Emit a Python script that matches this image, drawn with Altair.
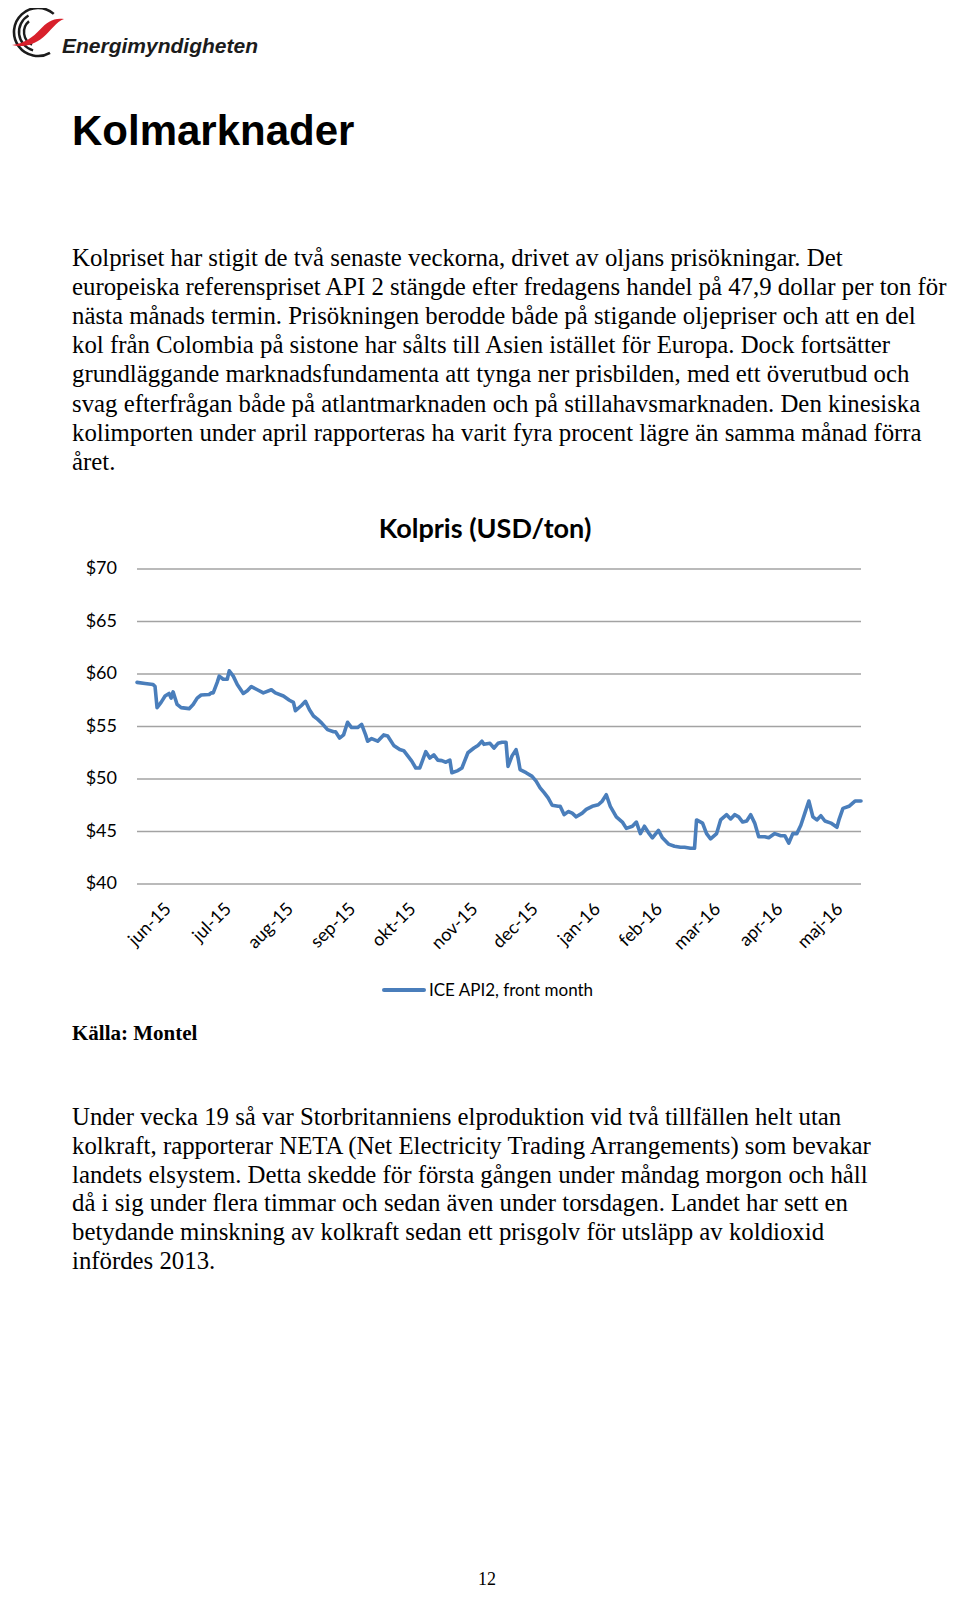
import altair as alt
import pandas as pd

# ---------------- data ----------------
DATES = [
    "2015-05-18", "2015-05-22", "2015-05-26", "2015-05-27", "2015-05-28", "2015-05-30",
    "2015-06-01", "2015-06-03", "2015-06-04", "2015-06-05", "2015-06-07", "2015-06-09",
    "2015-06-13", "2015-06-15", "2015-06-17", "2015-06-19", "2015-06-23", "2015-06-24",
    "2015-06-25", "2015-06-27", "2015-06-28", "2015-06-30", "2015-07-02", "2015-07-03",
    "2015-07-05", "2015-07-07", "2015-07-10", "2015-07-12", "2015-07-14", "2015-07-17",
    "2015-07-20", "2015-07-24", "2015-07-26", "2015-07-30", "2015-08-02", "2015-08-04",
    "2015-08-05", "2015-08-08", "2015-08-10", "2015-08-12", "2015-08-14", "2015-08-16",
    "2015-08-18", "2015-08-21", "2015-08-24", "2015-08-25", "2015-08-27", "2015-08-29",
    "2015-08-31", "2015-09-02", "2015-09-05", "2015-09-07", "2015-09-09", "2015-09-10",
    "2015-09-12", "2015-09-15", "2015-09-18", "2015-09-20", "2015-09-23", "2015-09-26",
    "2015-09-28", "2015-09-30", "2015-10-02", "2015-10-04", "2015-10-06", "2015-10-09",
    "2015-10-11", "2015-10-13", "2015-10-15", "2015-10-17", "2015-10-19", "2015-10-21",
    "2015-10-22", "2015-10-25", "2015-10-27", "2015-10-30", "2015-11-02", "2015-11-04",
    "2015-11-06", "2015-11-07", "2015-11-10", "2015-11-12", "2015-11-14", "2015-11-16",
    "2015-11-18", "2015-11-19", "2015-11-21", "2015-11-23", "2015-11-24", "2015-11-25",
    "2015-11-28", "2015-12-01", "2015-12-03", "2015-12-05", "2015-12-07", "2015-12-09",
    "2015-12-11", "2015-12-14", "2015-12-15", "2015-12-17", "2015-12-19", "2015-12-21",
    "2015-12-23", "2015-12-26", "2015-12-28", "2015-12-31", "2016-01-03", "2016-01-05",
    "2016-01-07", "2016-01-09", "2016-01-12", "2016-01-15", "2016-01-17", "2016-01-20",
    "2016-01-22", "2016-01-24", "2016-01-26", "2016-01-28", "2016-01-30", "2016-02-02",
    "2016-02-04", "2016-02-07", "2016-02-10", "2016-02-13", "2016-02-15", "2016-02-18",
    "2016-02-20", "2016-02-21", "2016-02-24", "2016-02-26", "2016-02-28", "2016-03-02",
    "2016-03-04", "2016-03-07", "2016-03-09", "2016-03-11", "2016-03-13", "2016-03-15",
    "2016-03-17", "2016-03-19", "2016-03-21", "2016-03-23", "2016-03-26", "2016-03-28",
    "2016-03-31", "2016-04-03", "2016-04-05", "2016-04-07", "2016-04-09", "2016-04-11",
    "2016-04-13", "2016-04-15", "2016-04-17", "2016-04-19", "2016-04-21", "2016-04-23",
    "2016-04-25", "2016-04-28", "2016-05-01", "2016-05-02", "2016-05-04", "2016-05-07",
    "2016-05-10", "2016-05-13",
]
PRICES = [
    59.2, 59.1, 59.0, 58.8, 56.8, 57.3,
    57.9, 58.15, 57.7, 58.3, 57.1, 56.8,
    56.7, 57.1, 57.7, 58.0, 58.05, 58.2,
    58.2, 59.2, 59.8, 59.5, 59.5, 60.3,
    59.8, 59.0, 58.15, 58.4, 58.8, 58.5,
    58.2, 58.5, 58.2, 57.9, 57.5, 57.3,
    56.5, 57.0, 57.4, 56.6, 56.0, 55.7,
    55.35, 54.7, 54.5, 54.5, 53.9, 54.2,
    55.4, 54.9, 54.9, 55.2, 54.2, 53.6,
    53.85, 53.6, 54.2, 54.1, 53.2, 52.8,
    52.7, 52.2, 51.7, 51.05, 51.05, 52.6,
    52.0, 52.3, 51.8, 51.75, 51.6, 51.8,
    50.6, 50.8, 51.05, 52.5, 52.95, 53.2,
    53.6, 53.3, 53.4, 52.95, 53.4, 53.5,
    53.5, 51.2, 52.2, 52.8, 52.0, 50.9,
    50.6, 50.25, 49.8, 49.15, 48.7, 48.2,
    47.5, 47.4, 47.4, 46.6, 46.9, 46.75,
    46.4, 46.75, 47.1, 47.4, 47.55, 47.9,
    48.5, 47.4, 46.4, 45.9, 45.3, 45.5,
    45.9, 44.8, 45.5, 44.9, 44.4, 45.1,
    44.4, 43.8, 43.6, 43.5, 43.5, 43.4,
    43.4, 46.1, 45.8, 44.8, 44.3, 44.8,
    46.1, 46.6, 46.2, 46.6, 46.4, 45.9,
    46.0, 46.6, 45.8, 44.5, 44.5, 44.4,
    44.8, 44.6, 44.6, 43.9, 44.8, 44.8,
    45.6, 46.75, 47.9, 46.4, 46.1, 46.5,
    46.0, 45.8, 45.4, 46.1, 47.2, 47.4,
    47.9, 47.9,
]
MONTH_TICKS = ["2015-06-01", "2015-07-01", "2015-08-01", "2015-09-01", "2015-10-01",
               "2015-11-01", "2015-12-01", "2016-01-01", "2016-02-01", "2016-03-01",
               "2016-04-01", "2016-05-01"]
MONTH_LABELS = ["jun-15", "jul-15", "aug-15", "sep-15", "okt-15", "nov-15",
                "dec-15", "jan-16", "feb-16", "mar-16", "apr-16", "maj-16"]
Y_TICKS = [40, 45, 50, 55, 60, 65, 70]
Y_LABELS = ["$40", "$45", "$50", "$55", "$60", "$65", "$70"]

SERIES_NAME = "ICE API2, front month"
CHART_TITLE = "Kolpris (USD/ton)"
PAGE_TITLE = "Kolmarknader"
LOGO_TEXT = "Energimyndigheten"
SOURCE = "Källa: Montel"
PAGE_NO = "12"
PARA1 = [
    "Kolpriset har stigit de två senaste veckorna, drivet av oljans prisökningar. Det",
    "europeiska referenspriset API 2 stängde efter fredagens handel på 47,9 dollar per ton för",
    "nästa månads termin. Prisökningen berodde både på stigande oljepriser och att en del",
    "kol från Colombia på sistone har sålts till Asien istället för Europa. Dock fortsätter",
    "grundläggande marknadsfundamenta att tynga ner prisbilden, med ett överutbud och",
    "svag efterfrågan både på atlantmarknaden och på stillahavsmarknaden. Den kinesiska",
    "kolimporten under april rapporteras ha varit fyra procent lägre än samma månad förra",
    "året.",
]
PARA2 = [
    "Under vecka 19 så var Storbritanniens elproduktion vid två tillfällen helt utan",
    "kolkraft, rapporterar NETA (Net Electricity Trading Arrangements) som bevakar",
    "landets elsystem. Detta skedde för första gången under måndag morgon och håll",
    "då i sig under flera timmar och sedan även under torsdagen. Landet har sett en",
    "betydande minskning av kolkraft sedan ett prisgolv för utsläpp av koldioxid",
    "infördes 2013.",
]

# ---------------- styles / layout ----------------
BLUE = "#4a7ebb"
GRID = "#a3a3a3"
RED = "#d8202b"
SERIF = "Liberation Serif"
SANS = "Liberation Sans"
CAL = "Lato"
W, H = 944, 1582
X_RANGE = [129, 853]
Y_RANGE = [876, 561]

line_df = pd.DataFrame({"date": DATES, "price": PRICES})
grid_df = pd.DataFrame({"v": Y_TICKS, "lab": Y_LABELS})
month_df = pd.DataFrame({"d": MONTH_TICKS, "lab": MONTH_LABELS})
dummy = pd.DataFrame({"_": [0]})

xs = alt.Scale(range=X_RANGE)
ys = alt.Scale(domain=[40, 70], range=Y_RANGE)


def txt(s, x, y, align="left", baseline="alphabetic", **kw):
    return alt.Chart(dummy).mark_text(align=align, baseline=baseline, **kw).encode(
        x=alt.value(x), y=alt.value(y), text=alt.value(s))


layers = []

# logo
OUTER_ARC = "M 0.5 0.866 A 1 1 0 1 1 0.656 -0.755"
INNER_ARC1 = "M -0.259 0.966 A 1 1 0 0 1 -0.5 -0.866"
INNER_ARC2 = "M -0.423 0.906 A 1 1 0 0 1 -0.643 -0.766"
SWOOSH = ("M -1 0.5 C -0.6 0.6 -0.2 0.52 0.2 0.2 C 0.5 -0.05 0.7 -0.4 1 -0.5 "
          "C 0.6 -0.56 0.35 -0.38 0.08 -0.1 C -0.2 0.2 -0.5 0.42 -1 0.5 Z")
for path, size, sw in [(OUTER_ARC, 2304, 2.6), (INNER_ARC1, 1444, 2.4), (INNER_ARC2, 784, 2.4)]:
    layers.append(alt.Chart(dummy).mark_point(
        shape=path, size=size, filled=False, color="#1c1c1c", strokeWidth=sw, opacity=1
    ).encode(x=alt.value(30), y=alt.value(24)))
layers.append(alt.Chart(dummy).mark_point(
    shape=SWOOSH, size=2704, filled=True, color=RED, strokeWidth=0, opacity=1
).encode(x=alt.value(30), y=alt.value(24)))
layers.append(txt(LOGO_TEXT, 54, 45, font=SANS, fontSize=21, fontWeight="bold",
                  fontStyle="italic", color="#1c1c1c"))

# title and paragraph 1
layers.append(txt(PAGE_TITLE, 64, 137, font=SANS, fontSize=42, fontWeight="bold", color="#000000"))
for i, s in enumerate(PARA1):
    layers.append(txt(s, 64, 258 + 29.1 * i, font=SERIF, fontSize=24.8, color="#000000"))

# chart
layers.append(txt(CHART_TITLE, 477, 530, align="center", font=CAL, fontSize=27,
                  fontWeight="bold", color="#000000"))
layers.append(alt.Chart(grid_df).mark_rule(color=GRID, strokeWidth=1.6).encode(
    y=alt.Y("v:Q", scale=ys, axis=None), x=alt.value(X_RANGE[0]), x2=alt.value(X_RANGE[1])))
layers.append(alt.Chart(grid_df).mark_text(
    align="right", baseline="middle", font=CAL, fontSize=18, color="#000000"
).encode(y=alt.Y("v:Q", scale=ys, axis=None), x=alt.value(109), text="lab:N"))
layers.append(alt.Chart(line_df).mark_line(
    color=BLUE, strokeWidth=3.6, strokeJoin="round", strokeCap="round"
).encode(x=alt.X("date:T", scale=xs, axis=None), y=alt.Y("price:Q", scale=ys, axis=None)))
layers.append(alt.Chart(month_df).mark_text(
    align="right", baseline="middle", angle=315, dx=5, font=CAL, fontSize=18, color="#000000"
).encode(x=alt.X("d:T", scale=xs, axis=None), y=alt.value(902), text="lab:N"))

# legend
layers.append(alt.Chart(dummy).mark_rule(color=BLUE, strokeWidth=4, strokeCap="round").encode(
    x=alt.value(376), x2=alt.value(416), y=alt.value(982)))
layers.append(txt(SERIES_NAME, 421, 983, baseline="middle", font=CAL, fontSize=17, color="#000000"))

# source + paragraph 2 + page number
layers.append(txt(SOURCE, 64, 1032, font=SERIF, fontSize=21, fontWeight="bold", color="#000000"))
for i, s in enumerate(PARA2):
    layers.append(txt(s, 64, 1117 + 28.8 * i, font=SERIF, fontSize=24.8, color="#000000"))
layers.append(txt(PAGE_NO, 479, 1577, align="center", font=SERIF, fontSize=18, color="#000000"))

chart = alt.layer(*layers).properties(
    width=W, height=H, padding=0, autosize=alt.AutoSizeParams(type="none")
).configure_view(stroke=None)

chart.save("out.html", embed_options={"renderer": "svg", "actions": False})
